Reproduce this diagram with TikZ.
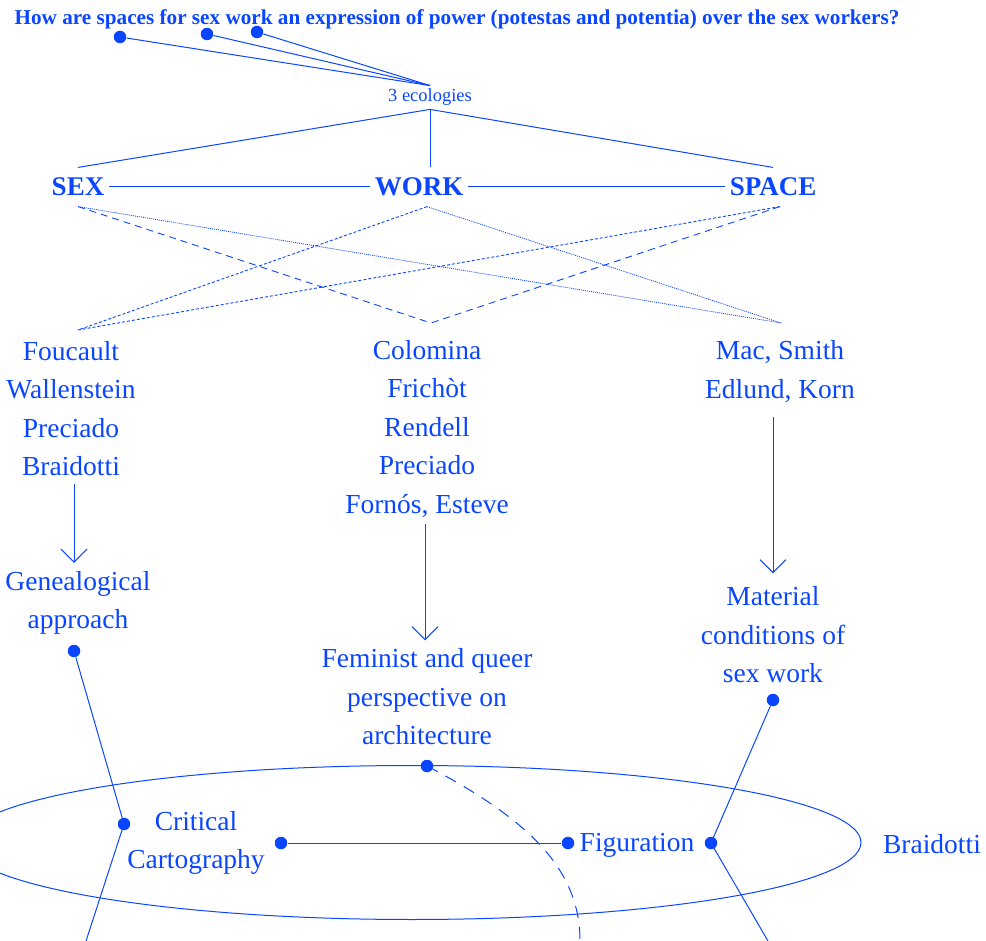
\documentclass[tikz,border=0pt]{standalone}
\usepackage{fontspec}
\setmainfont{Liberation Serif}
\usetikzlibrary{arrows.meta}
\definecolor{ink}{RGB}{10,70,255}

\begin{document}
\begin{tikzpicture}[x=1pt, y=-1pt, color=ink, line width=1pt,
  every node/.style={text=ink, inner sep=0pt},
  title/.style={font=\bfseries\fontsize{21.2}{25}\selectfont},
  small/.style={font=\fontsize{18.5}{22}\selectfont, inner sep=3pt},
  head/.style={font=\bfseries\fontsize{27}{32}\selectfont, inner xsep=4pt, inner ysep=10pt},
  txt/.style={font=\fontsize{27.5}{38.5}\selectfont, align=center},
  dot/.style={circle, fill=ink, minimum size=12.5pt, inner sep=0pt},
  arr/.style={-{Straight Barb[length=13pt, width=26pt, line width=1pt]}},
  longdash/.style={line width=0.9pt, dash pattern=on 7pt off 5pt},
  shortdash/.style={line width=0.9pt, dash pattern=on 3pt off 2pt},
  finedot/.style={line width=0.8pt, dash pattern=on 1pt off 1pt},
  curvedash/.style={dash pattern=on 12pt off 9pt}]

\clip (0,0) rectangle (986,941);

% question and the three ecologies
\node[title] (q) at (457,19) {How are spaces for sex work an expression of power (potestas and potentia) over the sex workers?};
\node[dot] (q1) at (120,37) {};
\node[dot] (q2) at (207,34) {};
\node[dot] (q3) at (257,32) {};
\node[small] (eco) at (430,97.5) {3 ecologies};
\foreach \d in {q1,q2,q3} \draw (\d) -- (eco.north);

% SEX / WORK / SPACE
\node[head] (sex) at (78,187) {SEX};
\node[head] (work) at (419,187) {WORK};
\node[head] (space) at (773,187) {SPACE};
\draw (sex) -- (work);
\draw (work) -- (space);
\draw (eco.south) -- (sex.north);
\draw (eco.south) -- (eco.south |- work.north);
\draw (eco.south) -- (space.north);

% crossing lines to the three groups of authors
\coordinate (cl) at (78,330);
\coordinate (cm) at (431,323);
\coordinate (cr) at (781,323);
\coordinate (ws) at ([xshift=8pt]work.south);
\coordinate (ss) at ([xshift=7pt]space.south);
\draw[longdash] (sex.south) -- (cm);
\draw[finedot] (sex.south) -- (cr);
\draw[shortdash] (ws) -- (cl);
\draw[finedot] (ws) -- (cr);
\draw[shortdash] (ss) -- (cl);
\draw[longdash] (ss) -- (cm);

% authors
\node[txt] (la) at (71,408.5) {Foucault\\Wallenstein\\Preciado\\Braidotti};
\node[txt] (ma) at (427,429) {Colomina\\Frichòt\\Rendell\\Preciado\\Fornós, Esteve};
\node[txt] (ra) at (780,371.5) {Mac, Smith\\Edlund, Korn};

% approaches
\node[txt] (gen) at (78,603) {Genealogical\\approach};
\node[txt] (fem) at (427,697) {Feminist and queer\\perspective on\\architecture};
\node[txt] (mat) at (773,635) {Material\\conditions of\\sex work};

\draw[arr] ([xshift=3pt, yshift=-8pt]la.south) -- ([xshift=-4pt, yshift=8pt]gen.north);
\draw[arr] ([xshift=-2pt, yshift=-6pt]ma.south) -- ([xshift=-2pt, yshift=8pt]fem.north);
\draw[arr] ([xshift=-7pt, yshift=-14pt]ra.south) -- ([yshift=13pt]mat.north);

% the field of figuration
\draw (412,842.5) ellipse [x radius=449, y radius=77];
\node[txt] (crit) at (196,843) {Critical\\Cartography};
\node[txt] (fig) at (637,845.5) {Figuration};
\node[txt] (brd) at (932,844.5) {Braidotti};

\node[dot] (gd) at (74,651) {};
\node[dot] (cd) at (124,824) {};
\coordinate (ge) at (86,941);
\draw (gd) -- (cd.center) -- (ge);

\node[dot] (md) at (773,700) {};
\node[dot] (fd) at (711,843) {};
\coordinate (me) at (768,941);
\draw (md) -- (fd.center) -- (me);

\node[dot] (ed) at (427,766) {};
\coordinate (ee) at (580,941);
\draw[curvedash] (ed.center) .. controls (530,820) and (580,870) .. (ee);

\node[dot] (ld) at (281,843) {};
\node[dot] (rd) at (568,843) {};
\draw (ld) -- (rd);
\end{tikzpicture}
\end{document}
